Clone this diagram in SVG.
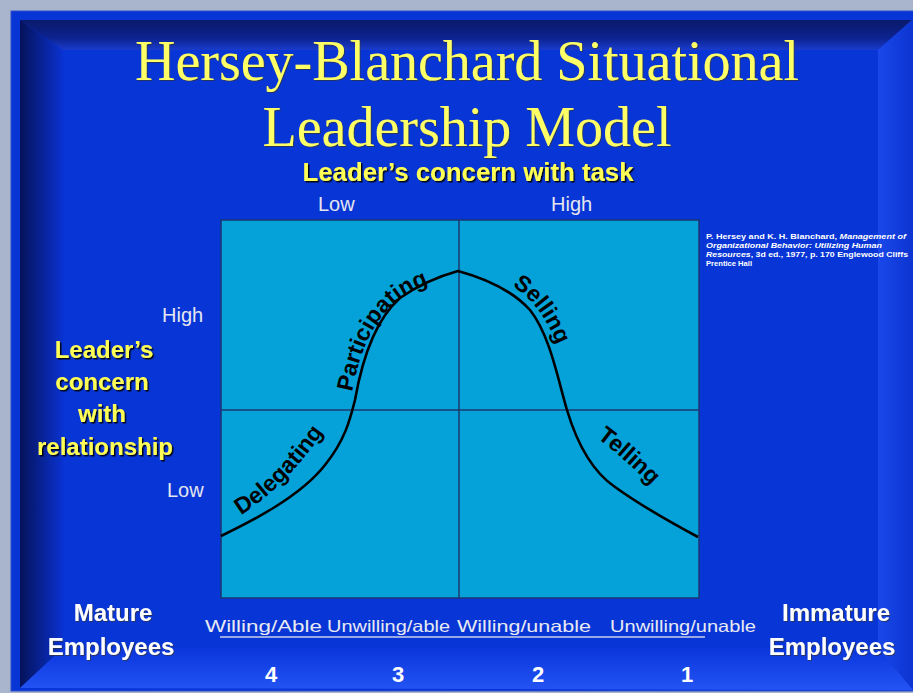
<svg xmlns="http://www.w3.org/2000/svg" width="913" height="693" viewBox="0 0 913 693">
<defs>
<linearGradient id="gTop" x1="0" y1="0" x2="0" y2="1"><stop offset="0" stop-color="#0a1a6a"/><stop offset="0.6" stop-color="#0c2290"/><stop offset="1" stop-color="#1a3ccc"/></linearGradient>
<linearGradient id="gLeft" x1="0" y1="0" x2="1" y2="0"><stop offset="0" stop-color="#05125a"/><stop offset="1" stop-color="#0a32d0"/></linearGradient>
<linearGradient id="gRight" x1="0" y1="0" x2="1" y2="0"><stop offset="0" stop-color="#1a48ea"/><stop offset="1" stop-color="#0c34d0"/></linearGradient>
<linearGradient id="gBottom" x1="0" y1="0" x2="0" y2="1"><stop offset="0" stop-color="#0a36dc"/><stop offset="1" stop-color="#2454f4"/></linearGradient>
<filter id="sh" x="-10%" y="-20%" width="130%" height="150%"><feDropShadow dx="1.5" dy="1.5" stdDeviation="0.6" flood-color="#000" flood-opacity="0.9"/></filter>
<filter id="shw" x="-10%" y="-20%" width="130%" height="150%"><feDropShadow dx="1" dy="1" stdDeviation="0.6" flood-color="#333" flood-opacity="0.7"/></filter>
<path id="pDel" d="M241,515 Q285,487 322,434"/>
<path id="pPar" d="M352,392 C360,352 372,322 396,302 C408,292 420,287 432,283"/>
<path id="pSel" d="M512,286 C532,298 547,318 560,352"/>
<path id="pTel" d="M597,438 C616,452 638,472 664,498"/>
</defs>
<style>
.title{font-family:"Liberation Serif","Times New Roman",serif;font-size:56px;fill:#ffff66;text-anchor:middle}
.yb{font-family:"Liberation Sans",Arial,sans-serif;font-weight:bold;fill:#ffff55;text-anchor:middle}
.wb{font-family:"Liberation Sans",Arial,sans-serif;font-weight:bold;fill:#ffffff;text-anchor:middle}
.axis{font-family:"Liberation Sans",Arial,sans-serif;font-size:20px;fill:#e4e6ee}
.lvl{font-family:"Liberation Sans",Arial,sans-serif;font-size:16.5px;fill:#e8eaf2}
.lab{font-family:"Liberation Sans",Arial,sans-serif;font-size:23px;font-weight:bold;fill:#000}
.cite{font-family:"Liberation Sans",Arial,sans-serif;font-size:8px;font-weight:bold;fill:#ffffff}
.grid{stroke:#1c3a6c;stroke-width:1.5;fill:none}
</style>
<rect width="913" height="693" fill="#a9b5cd"/>
<rect x="11" y="11" width="906" height="680" fill="#0836d6" stroke="#3050c8" stroke-width="1"/>
<polygon points="20,20 912,20 878,50 63,50" fill="url(#gTop)"/>
<polygon points="20,20 63,50 63,648 20,688" fill="url(#gLeft)"/>
<polygon points="912,20 913,20 913,690 878,648 878,50" fill="url(#gRight)"/>
<polygon points="20,688 63,648 878,648 913,690" fill="url(#gBottom)"/>
<rect x="63" y="50" width="815" height="598" fill="#0836d6"/>

<g id="title">
<text class="title" x="467" y="80" filter="url(#shw)">Hersey-Blanchard Situational</text>
<text class="title" x="467" y="146" filter="url(#shw)">Leadership Model</text>
</g>
<g id="task-axis">
<text class="yb" x="468" y="181" font-size="25" textLength="331" lengthAdjust="spacingAndGlyphs" filter="url(#sh)">Leader’s concern with task</text>
<text class="axis" x="318" y="211">Low</text>
<text class="axis" x="551" y="211">High</text>
</g>
<g id="relationship-axis">
<text class="yb" font-size="24" filter="url(#sh)"><tspan x="104" y="358">Leader’s</tspan><tspan x="102" y="390">concern</tspan><tspan x="102" y="422">with</tspan><tspan x="105" y="455">relationship</tspan></text>
<text class="axis" x="162" y="322">High</text>
<text class="axis" x="167" y="497">Low</text>
</g>
<g id="chart">
<rect x="221" y="220" width="478" height="378" fill="#04a2d8" stroke="#1b3470" stroke-width="1.5"/>
</g>
<g id="connectors">
<line class="grid" x1="459" y1="220" x2="459" y2="598"/>
<line class="grid" x1="221" y1="410" x2="699" y2="410"/>
<path d="M221,536 C250,522 300,497 325,465 C345,440 350,420 355,400 C362,360 375,320 400,298 C420,284 440,276 458,271 C480,277 510,288 530,310 C550,335 558,380 567,410 C576,440 590,470 615,487 C640,505 670,522 698,537" fill="none" stroke="#000" stroke-width="2.6"/>
</g>
<g id="styles">
<text class="lab"><textPath href="#pDel">Delegating</textPath></text>
<text class="lab"><textPath href="#pPar">Participating</textPath></text>
<text class="lab"><textPath href="#pSel">Selling</textPath></text>
<text class="lab"><textPath href="#pTel">Telling</textPath></text>
</g>
<g id="citation">
<text class="cite" x="706" y="239" textLength="200" lengthAdjust="spacingAndGlyphs">P. Hersey and K. H. Blanchard, <tspan font-style="italic">Management of</tspan></text>
<text class="cite" x="706" y="248" font-style="italic" textLength="176" lengthAdjust="spacingAndGlyphs">Organizational Behavior: Utilizing Human</text>
<text class="cite" x="706" y="257" textLength="202" lengthAdjust="spacingAndGlyphs"><tspan font-style="italic">Resources</tspan>, 3d ed., 1977, p. 170 Englewood Cliffs</text>
<text class="cite" x="706" y="266" textLength="46" lengthAdjust="spacingAndGlyphs">Prentice Hall</text>
</g>
<g id="maturity">
<text class="wb" x="113" y="621" font-size="24" filter="url(#shw)">Mature</text>
<text class="wb" x="111" y="655" font-size="24" filter="url(#shw)">Employees</text>
<text class="wb" x="836" y="621" font-size="24" filter="url(#shw)">Immature</text>
<text class="wb" x="832" y="655" font-size="24" filter="url(#shw)">Employees</text>
<text class="lvl" x="205" y="632" textLength="117" lengthAdjust="spacingAndGlyphs">Willing/Able</text>
<text class="lvl" x="327" y="632" textLength="123" lengthAdjust="spacingAndGlyphs">Unwilling/able</text>
<text class="lvl" x="457" y="632" textLength="134" lengthAdjust="spacingAndGlyphs">Willing/unable</text>
<text class="lvl" x="610" y="632" textLength="146" lengthAdjust="spacingAndGlyphs">Unwilling/unable</text>
<line x1="220" y1="637" x2="705" y2="637" stroke="#c8d0e8" stroke-width="1.5"/>
<text class="wb" x="271" y="682" font-size="22">4</text>
<text class="wb" x="398" y="682" font-size="22">3</text>
<text class="wb" x="538" y="682" font-size="22">2</text>
<text class="wb" x="687" y="682" font-size="22">1</text>
</g>
</svg>
